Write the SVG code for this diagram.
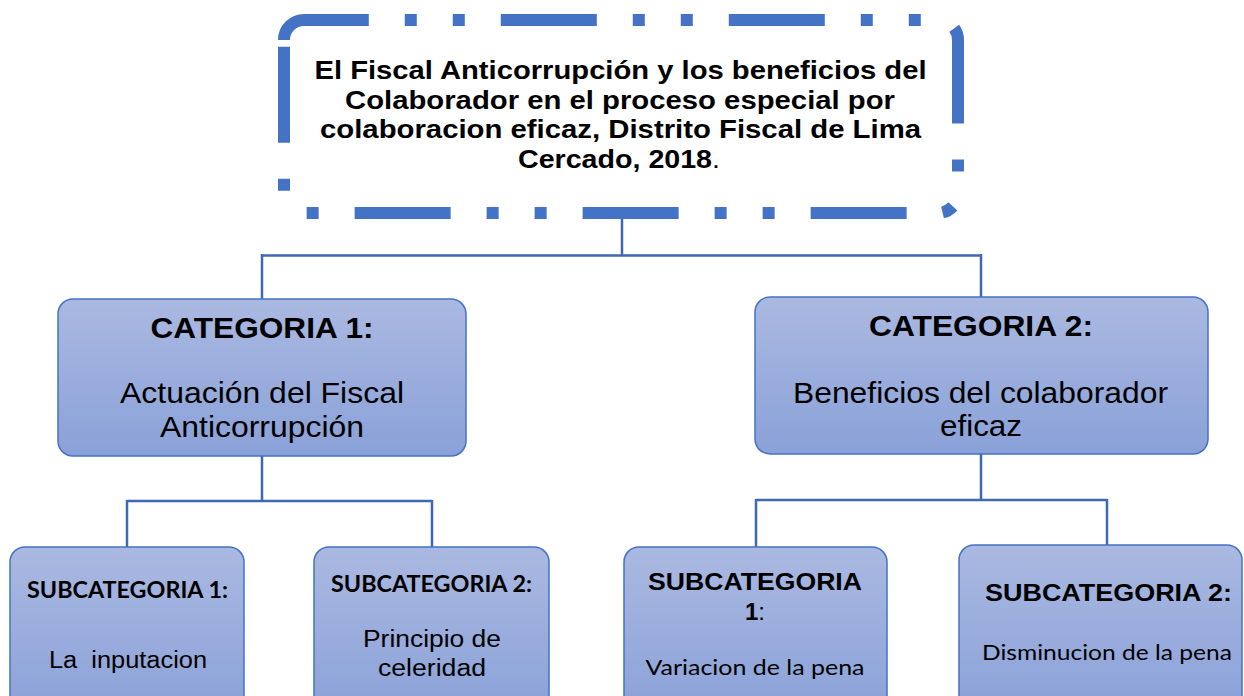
<svg xmlns="http://www.w3.org/2000/svg" width="1244" height="696" viewBox="0 0 1244 696">
<defs>
<linearGradient id="g" x1="0" y1="0" x2="0" y2="1">
<stop offset="0" stop-color="#AAB9E1"/>
<stop offset="1" stop-color="#8AA1D8"/>
</linearGradient>
<style>
.box{fill:url(#g);stroke:#4472C4;stroke-width:1.5}
.conn{fill:none;stroke:#3F67B4;stroke-width:2.5}
.t{font-family:"Liberation Sans",Arial,sans-serif;fill:#000;text-anchor:middle}
.b{font-weight:bold}
.c{font-family:Lato,"Open Sans",sans-serif;fill:#000;text-anchor:middle}
</style>
</defs>
<rect width="1244" height="696" fill="#fff"/>
<g id="connectors">
<path class="conn" d="M622,213 V255.5 M262,255.5 H981 M262,254 V299 M981,254 V297"/>
<path class="conn" d="M262,456 V501 M127,501 H432 M127,500 V547 M432,500 V547"/>
<path class="conn" d="M981,454 V500 M756,500 H1107 M756,499 V547 M1107,499 V545"/>
</g>
<g id="title">
<path d="M284,40 A20,20 0 0 1 304,20 H938 A20,20 0 0 1 958,40 V193 A20,20 0 0 1 938,213 H304 A20,20 0 0 1 284,193 Z" fill="none" stroke="#4472C4" stroke-width="12" stroke-dasharray="96 36 12 36 12 36"/>
<text class="t b" font-size="26.5" x="620.5" y="79" textLength="612" lengthAdjust="spacingAndGlyphs">El Fiscal Anticorrupción y los beneficios del</text>
<text class="t b" font-size="26.5" x="620" y="108.7" textLength="550" lengthAdjust="spacingAndGlyphs">Colaborador en el proceso especial por</text>
<text class="t b" font-size="26.5" x="620.5" y="138.4" textLength="601" lengthAdjust="spacingAndGlyphs">colaboracion eficaz, Distrito Fiscal de Lima</text>
<text class="t" font-size="26.5" x="619" y="168" textLength="202" lengthAdjust="spacingAndGlyphs"><tspan font-weight="bold">Cercado, 2018</tspan>.</text>
</g>
<g id="cat1">
<rect class="box" x="58" y="299" width="408" height="157" rx="15"/>
<text class="t b" font-size="29" x="262" y="337.5" textLength="223" lengthAdjust="spacingAndGlyphs">CATEGORIA 1:</text>
<text class="t" font-size="30" x="262" y="403" textLength="284" lengthAdjust="spacingAndGlyphs">Actuación del Fiscal</text>
<text class="t" font-size="30" x="262" y="437" textLength="204" lengthAdjust="spacingAndGlyphs">Anticorrupción</text>
</g>
<g id="cat2">
<rect class="box" x="755" y="297" width="453" height="157" rx="15"/>
<text class="t b" font-size="29" x="981" y="336" textLength="224" lengthAdjust="spacingAndGlyphs">CATEGORIA 2:</text>
<text class="t" font-size="30" x="980.5" y="403" textLength="375" lengthAdjust="spacingAndGlyphs">Beneficios del colaborador</text>
<text class="t" font-size="30" x="981" y="436" textLength="82" lengthAdjust="spacingAndGlyphs">eficaz</text>
</g>
<g id="sub1">
<rect class="box" x="10" y="547" width="234" height="170" rx="15"/>
<text class="c" font-size="22" font-weight="bold" x="127.5" y="598" textLength="201" lengthAdjust="spacingAndGlyphs">SUBCATEGORIA 1:</text>
<text class="t" font-size="23" x="128" y="668" textLength="158" lengthAdjust="spacingAndGlyphs" xml:space="preserve">La  inputacion</text>
</g>
<g id="sub2">
<rect class="box" x="314" y="547" width="235" height="170" rx="15"/>
<text class="c" font-size="22" font-weight="bold" x="431.5" y="592" textLength="201" lengthAdjust="spacingAndGlyphs">SUBCATEGORIA 2:</text>
<text class="t" font-size="23" x="432" y="647" textLength="138" lengthAdjust="spacingAndGlyphs">Principio de</text>
<text class="t" font-size="23" x="432" y="676" textLength="108" lengthAdjust="spacingAndGlyphs">celeridad</text>
</g>
<g id="sub3">
<rect class="box" x="624" y="547" width="263" height="170" rx="15"/>
<text class="t b" font-size="24" x="755" y="590" textLength="214" lengthAdjust="spacingAndGlyphs">SUBCATEGORIA</text>
<text class="t" font-size="24" x="755" y="620"><tspan font-weight="bold">1</tspan>:</text>
<text class="c" font-size="21" x="755" y="675" textLength="219" lengthAdjust="spacingAndGlyphs">Variacion de la pena</text>
</g>
<g id="sub4">
<rect class="box" x="959" y="545" width="283" height="170" rx="15"/>
<text class="t b" font-size="24" x="1108.5" y="601" textLength="247" lengthAdjust="spacingAndGlyphs">SUBCATEGORIA 2:</text>
<text class="c" font-size="21" x="1107" y="660" textLength="250" lengthAdjust="spacingAndGlyphs">Disminucion de la pena</text>
</g>
</svg>
